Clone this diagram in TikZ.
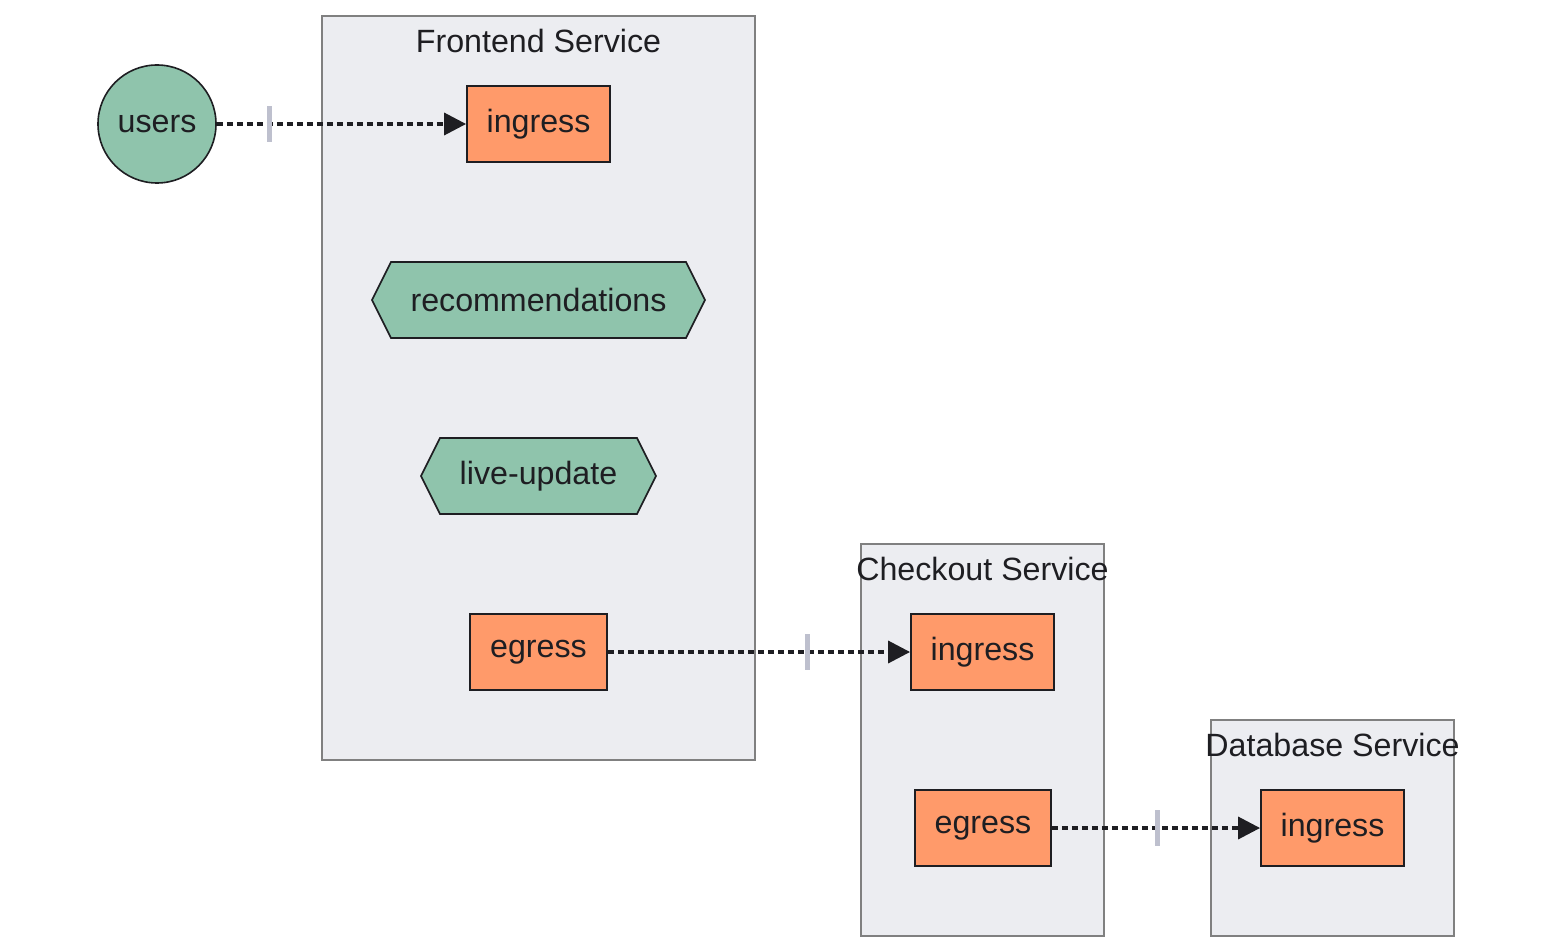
\documentclass[tikz,border=0pt]{standalone}
\usepackage{fontspec}
\setmainfont{Liberation Sans}
\usetikzlibrary{arrows.meta}

\definecolor{nodegreen}{RGB}{143,196,172}
\definecolor{nodeorange}{RGB}{255,154,106}
\definecolor{clusterfill}{RGB}{236,237,241}
\definecolor{clusterline}{RGB}{128,128,128}
\definecolor{inkdark}{RGB}{30,30,34}
\definecolor{tickgray}{RGB}{190,192,206}

\tikzset{
    cluster/.style={draw=clusterline, fill=clusterfill, line width=1.6pt},
    clusterlabel/.style={text=inkdark, font=\fontsize{32.2}{38}\selectfont},
    lbl/.style={text=inkdark, font=\fontsize{32.2}{38}\selectfont, inner sep=0},
    portbox/.style={lbl, draw=inkdark, fill=nodeorange, line width=1.8pt, minimum height=76pt},
    userbox/.style={lbl, circle, draw=inkdark, fill=nodegreen, line width=1.6pt, minimum size=118pt},
    hexbox/.style={draw=inkdark, fill=nodegreen, line width=1.6pt, line join=miter},
    flow/.style={draw=inkdark, line width=3.5pt, dash pattern=on 6pt off 4pt, -{Triangle[length=22pt,width=22pt]}},
    tick/.style={fill=tickgray, draw=none, minimum width=5pt, minimum height=36pt, inner sep=0},
}

% hexagon: name, centre x, centre y, half width, text
\newcommand\myhex[5]{
    \draw[hexbox] ({#2-#4},#3) -- ({#2-#4+19},{#3-38}) -- ({#2+#4-19},{#3-38})
        -- ({#2+#4},#3) -- ({#2+#4-19},{#3+38}) -- ({#2-#4+19},{#3+38}) -- cycle;
    \node[lbl] (#1) at (#2,#3) {#5};
}

\begin{document}
\begin{tikzpicture}[x=1pt, y=-1pt]
    \useasboundingbox (0,0) rectangle (1568,952);

    % clusters
    \draw[cluster] (322,16) rectangle (755,760);
    \node[clusterlabel] (frontlbl) at (538.5,41) {Frontend Service};
    \draw[cluster] (861,544) rectangle (1104,936);
    \node[clusterlabel] (checklbl) at (982.5,569) {Checkout Service};
    \draw[cluster] (1211,720) rectangle (1454,936);
    \node[clusterlabel] (dblbl) at (1332.5,745) {Database Service};

    % users
    \node[userbox] (users) at (157,124) {users};

    % frontend nodes
    \node[portbox, minimum width=143pt] (feIngress) at (538.5,124) {ingress};
    \myhex{recs}{538.5}{300}{166.5}{recommendations}
    \myhex{live}{538.5}{476}{117.5}{live-update}
    \node[portbox, minimum width=137pt] (feEgress) at (538.5,652) {egress};

    % checkout nodes
    \node[portbox, minimum width=143pt] (coIngress) at (982.5,652) {ingress};
    \node[portbox, minimum width=136pt] (coEgress) at (983,828) {egress};

    % database nodes
    \node[portbox, minimum width=143pt] (dbIngress) at (1332.5,828) {ingress};

    % users to frontend
    \draw[flow] (users) -- node[tick, pos=0.211] (tickA) {} (feIngress);
    % frontend to checkout
    \draw[flow] (feEgress) -- node[tick, pos=0.661] (tickB) {} (coIngress);
    % checkout to database
    \draw[flow] (coEgress) -- node[tick, pos=0.505] (tickC) {} (dbIngress);

\end{tikzpicture}
\end{document}
